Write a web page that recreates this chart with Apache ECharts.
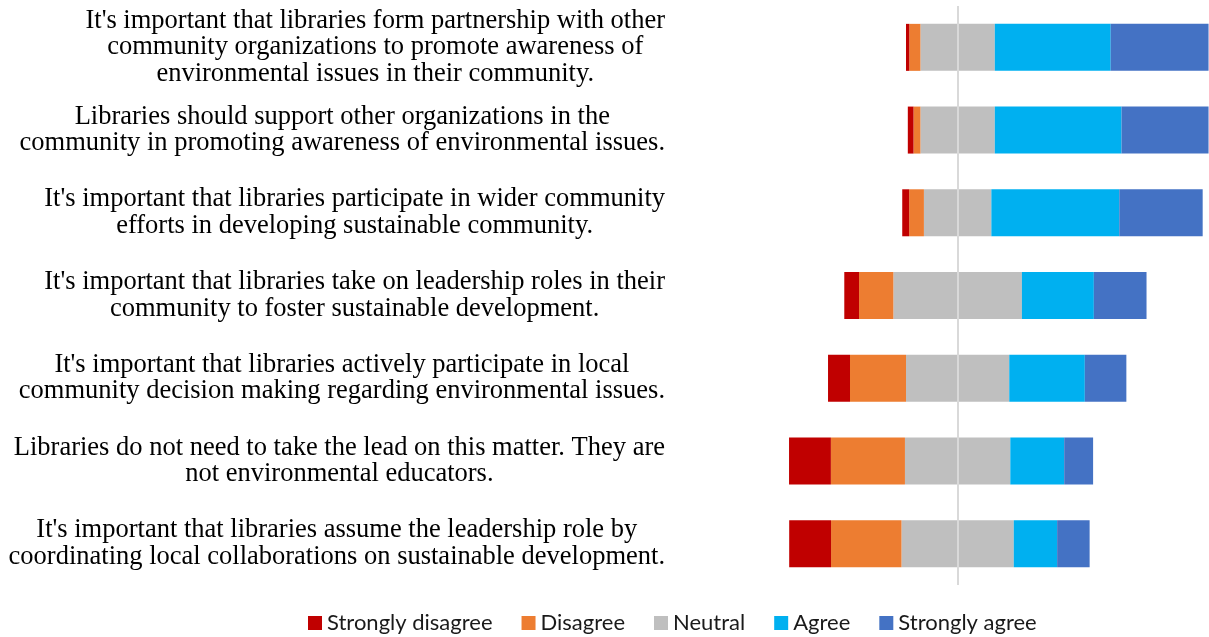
<!DOCTYPE html>
<html><head><meta charset="utf-8">
<script src="https://cdn.jsdelivr.net/npm/echarts@6/dist/echarts.min.js"></script>
<style>html,body{margin:0;padding:0;background:#fff}#c{width:1209px;height:637px}</style>
</head><body><div id="c"></div>
<script>
const categories = [
  "It's important that libraries form partnership with other\ncommunity organizations to promote awareness of\nenvironmental issues in their community.",
  "Libraries should support other organizations in the\ncommunity in promoting awareness of environmental issues.",
  "It's important that libraries participate in wider community\nefforts in developing sustainable community.",
  "It's important that libraries take on leadership roles in their\ncommunity to foster sustainable development.",
  "It's important that libraries actively participate in local\ncommunity decision making regarding environmental issues.",
  "Libraries do not need to take the lead on this matter. They are\nnot environmental educators.",
  "It's important that libraries assume the leadership role by\ncoordinating local collaborations on sustainable development."
];
const stronglyDisagree = [1.1, 1.9, 2.3, 4.9, 7.3, 13.9, 13.9];
const disagree = [3.7, 2.3, 4.9, 11.4, 18.6, 24.6, 23.4];
const neutral = [24.7, 24.7, 22.4, 42.7, 34.3, 35.0, 37.3];
const agree = [38.5, 42.1, 42.5, 23.9, 25.1, 17.9, 14.4];
const stronglyAgree = [32.5, 28.9, 27.7, 17.5, 13.8, 9.6, 10.8];
const legendNames = ['Strongly disagree', 'Disagree', 'Neutral', 'Agree', 'Strongly agree'];
const colors = ['#C00000', '#ED7D31', '#BFBFBF', '#00B0F0', '#4472C4'];

const chart = echarts.init(document.getElementById('c'), null, {renderer: 'canvas'});
const neg = arr => arr.map(v => -v);
const half = arr => arr.map(v => v / 2);
function bar(name, data, color, extra) {
  return Object.assign({
    name: name, type: 'bar', stack: 'total', data: data, barWidth: 47,
    itemStyle: {color: color}, emphasis: {disabled: true}
  }, extra || {});
}
chart.setOption({
  animation: false,
  backgroundColor: '#fff',
  grid: {left: 777, right: 0, top: 6, bottom: 52, containLabel: false},
  xAxis: {type: 'value', min: -60, max: 83.5, show: false},
  yAxis: {
    type: 'category', data: categories, inverse: true,
    axisLine: {show: false}, axisTick: {show: false}, splitLine: {show: false},
    axisLabel: {
      margin: 112, align: 'right',
      formatter: v => '{c|' + v + '}',
      rich: {c: {align: 'center', fontFamily: 'Liberation Serif', fontSize: 26.5, lineHeight: 26.5, color: '#000'}}
    }
  },
  legend: {
    data: legendNames, left: 303, top: 607, icon: 'rect',
    itemWidth: 14, itemHeight: 14, itemGap: 29,
    textStyle: {fontFamily: 'Lato', fontSize: 22, color: '#1a1a1a'}
  },
  series: [
    bar('Neutral', neg(half(neutral)), colors[2]),
    bar('Neutral', half(neutral), colors[2]),
    bar('Disagree', neg(disagree), colors[1]),
    bar('Agree', agree, colors[3]),
    bar('Strongly disagree', neg(stronglyDisagree), colors[0]),
    bar('Strongly agree', stronglyAgree, colors[4], {
      markLine: {
        silent: true, symbol: ['none', 'none'], z: 10,
        label: {show: false},
        lineStyle: {color: '#D9D9D9', width: 2, type: 'solid'},
        data: [{xAxis: 0}]
      }
    })
  ]
});
</script></body></html>
